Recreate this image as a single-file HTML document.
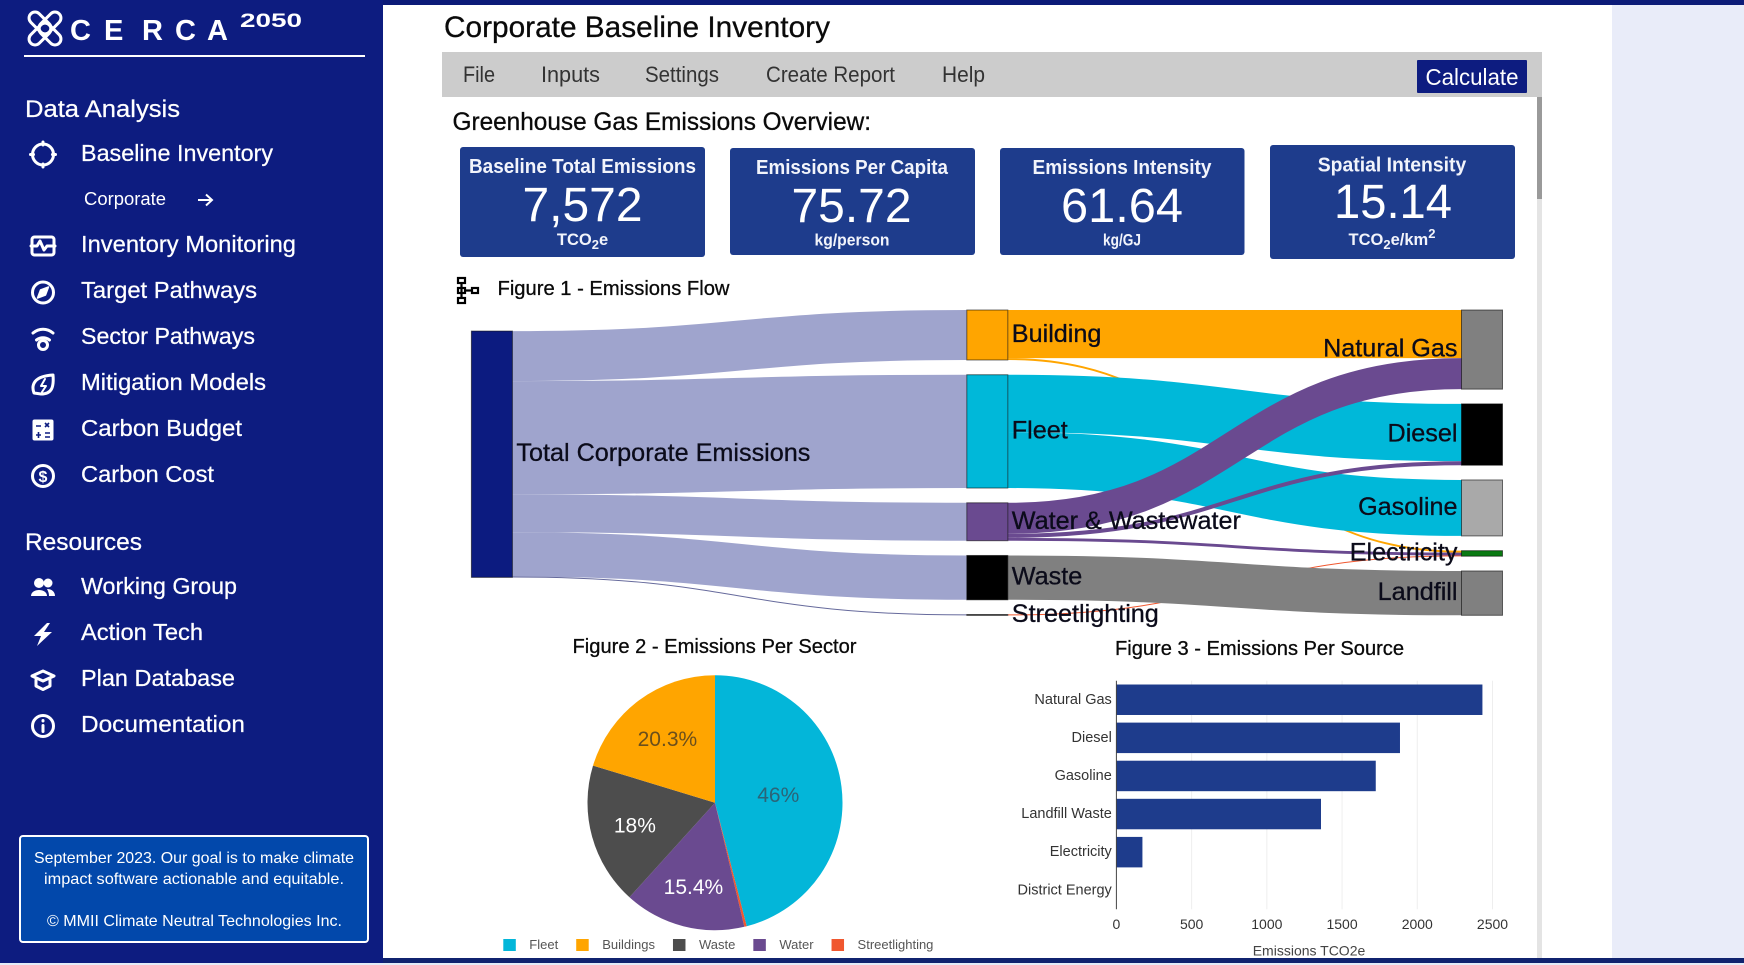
<!DOCTYPE html>
<html lang="en">
<head>
<meta charset="utf-8">
<title>Corporate Baseline Inventory</title>
<style>
html,body{margin:0;padding:0;width:1744px;height:965px;overflow:hidden;background:#fff}
svg{position:absolute;left:0;top:0;display:block}
text{font-family:"Liberation Sans",sans-serif}
.nav{fill:#fff;font-size:23px;stroke:#fff;stroke-width:.25}
.sec{fill:#fff;font-size:24px;stroke:#fff;stroke-width:.25}
.menu{fill:#333;font-size:22px}
.ct{fill:#f2f4fb;font-size:20px;font-weight:bold;text-anchor:middle}
.cv{fill:#fff;font-size:48px;text-anchor:middle}
.cu{fill:#f2f4fb;font-size:16.5px;font-weight:bold;text-anchor:middle}
.ic{fill:none;stroke:#fff;stroke-width:3;stroke-linecap:round;stroke-linejoin:round}
.foot{fill:#fff;font-size:16px}
.head{stroke:#0a0a0a;stroke-width:.3}
</style>
</head>
<body>
<svg id="root" width="1744" height="965" viewBox="0 0 1744 965" xmlns="http://www.w3.org/2000/svg">
  <rect x="0" y="0" width="1744" height="965" fill="#e3ecf8"/>
  <rect x="383" y="5" width="1229" height="953" fill="#ffffff"/>
  <rect x="1612" y="5" width="132" height="953" fill="#e9ecf9"/>
  <rect x="0" y="0" width="1744" height="5" fill="#0c1b78"/>
  <rect x="383" y="958" width="1361" height="5" fill="#10236f"/>

  <!-- SIDEBAR -->
  <g>
    <rect x="0" y="0" width="383" height="963" fill="#0d1c80"/>
    <g>
      <g fill="none" stroke="#fff" stroke-width="3">
        <rect x="27" y="17" width="26" height="12" rx="6" transform="rotate(45 40 23)"/>
        <rect x="37" y="28" width="26" height="12" rx="6" transform="rotate(45 50 34)"/>
        <rect x="37" y="17" width="26" height="12" rx="6" transform="rotate(-45 50 23)"/>
        <rect x="27" y="28" width="26" height="12" rx="6" transform="rotate(-45 40 34)"/>
      </g>
      <text x="70 104 142 175 207" y="40" fill="#fff" font-size="29" font-weight="bold">CERCA</text>
      <text x="240" y="27" fill="#fff" font-size="19" font-weight="bold" textLength="62" lengthAdjust="spacingAndGlyphs">2050</text>
    </g>
    <rect x="24" y="55" width="341" height="2" fill="#fff"/>

    <text class="sec" x="25" y="117" textLength="155" lengthAdjust="spacingAndGlyphs">Data Analysis</text>
    <text class="nav" x="81" y="161" textLength="192" lengthAdjust="spacingAndGlyphs">Baseline Inventory</text>
    <text x="84" y="205" fill="#fff" font-size="18" textLength="82" lengthAdjust="spacingAndGlyphs">Corporate</text>
    <path d="M198 200H212M206 194.500L212 200L206 205.500" fill="none" stroke="#fff" stroke-width="2"/>
    <text class="nav" x="81" y="252" textLength="215" lengthAdjust="spacingAndGlyphs">Inventory Monitoring</text>
    <text class="nav" x="81" y="298" textLength="176" lengthAdjust="spacingAndGlyphs">Target Pathways</text>
    <text class="nav" x="81" y="344" textLength="174" lengthAdjust="spacingAndGlyphs">Sector Pathways</text>
    <text class="nav" x="81" y="390" textLength="185" lengthAdjust="spacingAndGlyphs">Mitigation Models</text>
    <text class="nav" x="81" y="436" textLength="161" lengthAdjust="spacingAndGlyphs">Carbon Budget</text>
    <text class="nav" x="81" y="482" textLength="133" lengthAdjust="spacingAndGlyphs">Carbon Cost</text>
    <text class="sec" x="25" y="550" textLength="117" lengthAdjust="spacingAndGlyphs">Resources</text>
    <text class="nav" x="81" y="594" textLength="156" lengthAdjust="spacingAndGlyphs">Working Group</text>
    <text class="nav" x="81" y="640" textLength="122" lengthAdjust="spacingAndGlyphs">Action Tech</text>
    <text class="nav" x="81" y="686" textLength="154" lengthAdjust="spacingAndGlyphs">Plan Database</text>
    <text class="nav" x="81" y="732" textLength="164" lengthAdjust="spacingAndGlyphs">Documentation</text>

    <g class="ic"><circle cx="43" cy="154.500" r="10.500"/><path d="M43 142v3M43 164v3M30.500 154.500h3M52.500 154.500h3"/></g>
    <g class="ic" stroke-width="2.500"><rect x="32" y="237" width="22" height="18" rx="2.500"/><path d="M31 246h6l3-5 4 9 3-4h8" stroke="#fff"/></g>
    <g class="ic"><circle cx="43" cy="292.500" r="10.500"/><path d="M48.500 287L45.500 295 37.500 298 40.500 290Z" fill="#fff" stroke-width="1.500"/></g>
    <g class="ic"><path d="M33 333c6-5 14-5 20 0"/><path d="M36.500 340c4-3 9-3 13 0"/><circle cx="43" cy="345" r="4.500"/></g>
    <g class="ic" stroke-width="2.600"><path d="M34 393c-3-8 0-17 19-18 1 12-1 19-12 19z"/><path d="M45 379l-4 7h5l-4 6" stroke-width="2"/></g>
    <g><rect x="32.500" y="419.500" width="21" height="21" rx="2" fill="#fff"/><path d="M36 426h5M38.500 432v6M36 435h5M45 423l4 4M49 423l-4 4M45 433h5M45 437h5" stroke="#0d1c80" stroke-width="1.600" fill="none"/></g>
    <g class="ic"><circle cx="43" cy="476" r="10.500"/><text x="43" y="482" text-anchor="middle" fill="#fff" stroke="none" font-size="16" font-weight="bold">$</text></g>
    <g fill="#fff"><circle cx="39" cy="583" r="5"/><circle cx="48" cy="583" r="4.500"/><path d="M31 596c0-8 16-8 16 0zM47 589c5 0 8 3 8 7h-6c0-3-1-5-2-7z"/></g>
    <path d="M47 623L34 636h7l-4 10 15-14h-8l6-9z" fill="#fff"/>
    <g class="ic"><path d="M32 676l11-5 11 5-11 5z"/><path d="M36 680v6l7 3.500 7-3.500v-6"/></g>
    <g class="ic"><circle cx="43" cy="726" r="10.500"/><path d="M43 725.500v6M43 720.500v.5"/></g>

    <g>
      <rect x="20" y="836" width="348" height="106" rx="3" fill="#0248ab" stroke="#fff" stroke-width="2"/>
      <text class="foot" x="34" y="863" textLength="320" lengthAdjust="spacingAndGlyphs">September 2023. Our goal is to make climate</text>
      <text class="foot" x="44" y="884" textLength="300" lengthAdjust="spacingAndGlyphs">impact software actionable and equitable.</text>
      <text class="foot" x="47" y="926" textLength="295" lengthAdjust="spacingAndGlyphs">© MMII Climate Neutral Technologies Inc.</text>
    </g>
  </g>

  <!-- HEADER -->
  <text class="head" x="444" y="37" fill="#0a0a0a" font-size="30" textLength="386" lengthAdjust="spacingAndGlyphs">Corporate Baseline Inventory</text>
  <rect x="442" y="52" width="1100" height="45" fill="#cccccc"/>
  <text class="menu" x="463" y="82" textLength="32" lengthAdjust="spacingAndGlyphs">File</text>
  <text class="menu" x="541" y="82" textLength="59" lengthAdjust="spacingAndGlyphs">Inputs</text>
  <text class="menu" x="645" y="82" textLength="74" lengthAdjust="spacingAndGlyphs">Settings</text>
  <text class="menu" x="766" y="82" textLength="129" lengthAdjust="spacingAndGlyphs">Create Report</text>
  <text class="menu" x="942" y="82" textLength="43" lengthAdjust="spacingAndGlyphs">Help</text>
  <g>
    <rect x="1417" y="60" width="110" height="33" rx="1" fill="#0d1c80"/>
    <text x="1425.500" y="85" fill="#fff" font-size="23" textLength="93" lengthAdjust="spacingAndGlyphs">Calculate</text>
  </g>
  <rect x="1537" y="97" width="5" height="861" fill="#e4e4e4"/>
  <rect x="1537" y="97" width="5" height="102" fill="#9a9a9a"/>
  <text class="head" x="452.500" y="130" fill="#0a0a0a" font-size="25" textLength="418.500" lengthAdjust="spacingAndGlyphs">Greenhouse Gas Emissions Overview:</text>

  <!-- KPI CARDS -->
  <g>
    <rect x="460" y="147" width="245" height="110" rx="3" fill="#1e3c8c"/>
    <text class="ct" x="582.500" y="173" textLength="227" lengthAdjust="spacingAndGlyphs">Baseline Total Emissions</text>
    <text class="cv" x="582.500" y="221" textLength="120" lengthAdjust="spacingAndGlyphs">7,572</text>
    <text class="cu" x="582.500" y="245">TCO<tspan dy="4" font-size="13">2</tspan><tspan dy="-4">e</tspan></text>
  </g>
  <g>
    <rect x="730" y="148" width="245" height="107" rx="3" fill="#1e3c8c"/>
    <text class="ct" x="852" y="174" textLength="192" lengthAdjust="spacingAndGlyphs">Emissions Per Capita</text>
    <text class="cv" x="851.500" y="222" textLength="120" lengthAdjust="spacingAndGlyphs">75.72</text>
    <text class="cu" x="852" y="245.500" textLength="75" lengthAdjust="spacingAndGlyphs">kg/person</text>
  </g>
  <g>
    <rect x="1000" y="148" width="244.500" height="107" rx="3" fill="#1e3c8c"/>
    <text class="ct" x="1122" y="174" textLength="179" lengthAdjust="spacingAndGlyphs">Emissions Intensity</text>
    <text class="cv" x="1122" y="222" textLength="122" lengthAdjust="spacingAndGlyphs">61.64</text>
    <text class="cu" x="1122" y="245.500" textLength="38" lengthAdjust="spacingAndGlyphs">kg/GJ</text>
  </g>
  <g>
    <rect x="1270" y="145" width="245" height="114" rx="3" fill="#1e3c8c"/>
    <text class="ct" x="1392" y="171.500" textLength="148.500" lengthAdjust="spacingAndGlyphs">Spatial Intensity</text>
    <text class="cv" x="1393" y="218" textLength="118" lengthAdjust="spacingAndGlyphs">15.14</text>
    <text class="cu" x="1392" y="245">TCO<tspan dy="4" font-size="13">2</tspan><tspan dy="-4">e/km</tspan><tspan dy="-7" font-size="13">2</tspan></text>
  </g>

  <!-- FIGURE TITLES -->
  <g fill="none" stroke="#000" stroke-width="2.200">
    <rect x="458" y="278" width="7" height="5"/><rect x="458" y="288" width="7" height="5"/><rect x="458" y="298" width="7" height="5"/><rect x="472" y="288" width="6" height="5"/>
    <path d="M461.500 283v15M465 290.500h7"/>
  </g>
  <text class="head" x="497.500" y="295" fill="#0a0a0a" font-size="20.500" textLength="232" lengthAdjust="spacingAndGlyphs">Figure 1 - Emissions Flow</text>
  <text class="head" x="572.500" y="653" fill="#0a0a0a" font-size="20.500" textLength="284" lengthAdjust="spacingAndGlyphs">Figure 2 - Emissions Per Sector</text>
  <text class="head" x="1115" y="655" fill="#0a0a0a" font-size="20.500" textLength="289" lengthAdjust="spacingAndGlyphs">Figure 3 - Emissions Per Source</text>

  <g id="sankey"></g>
  <g id="pie"></g>
  <g id="bars"></g>
</svg>

<script>
/* ---------- Figure 1 data ---------- */
const sankeyColumnOne = ['Total Corporate Emissions'];
const sankeyColumnTwo = ['Building', 'Fleet', 'Water & Wastewater', 'Waste', 'Streetlighting'];
const sankeyColumnThree = ['Natural Gas', 'Diesel', 'Gasoline', 'Electricity', 'Landfill'];
const linkSources = ['Total Corporate Emissions', 'Total Corporate Emissions', 'Total Corporate Emissions', 'Total Corporate Emissions', 'Total Corporate Emissions', 'Building', 'Building', 'Streetlighting', 'Fleet', 'Fleet', 'Water & Wastewater', 'Water & Wastewater', 'Water & Wastewater', 'Waste'];
const linkTargets = ['Building', 'Fleet', 'Water & Wastewater', 'Waste', 'Streetlighting', 'Natural Gas', 'Electricity', 'Electricity', 'Diesel', 'Gasoline', 'Natural Gas', 'Diesel', 'Electricity', 'Landfill'];
const linkValues = [1537, 3483, 1166, 1363, 23, 1478, 59, 23, 1762, 1721, 955, 123, 88, 1363];

/* ---------- Figure 2 data ---------- */
const sectorNames = ['Fleet', 'Streetlighting', 'Water', 'Waste', 'Buildings'];
const sectorValues = [3483, 23, 1166, 1363, 1537];

/* ---------- Figure 3 data ---------- */
const sourceNames = ['Natural Gas', 'Diesel', 'Gasoline', 'Landfill Waste', 'Electricity', 'District Energy'];
const sourceValues = [2433, 1885, 1724, 1360, 173, 0];
const valueTicks = [0, 500, 1000, 1500, 2000, 2500];

/* ---------- helpers ---------- */
const NS = 'http://www.w3.org/2000/svg';
function make(parent, tag, attrs, content) {
  const node = document.createElementNS(NS, tag);
  for (const key in attrs) node.setAttribute(key, attrs[key]);
  if (content !== undefined) node.textContent = content;
  parent.appendChild(node);
  return node;
}
function slug(s) {
  return String(s).toLowerCase().replace(/[^a-z0-9]+/g, '-').replace(/^-|-$/g, '');
}

/* ---------- Sankey ---------- */
(function () {
  const host = document.getElementById('sankey');
  const nodeFill = {
    'Total Corporate Emissions': '#0c1b80', 'Building': '#ffa500', 'Fleet': '#00b8d9',
    'Water & Wastewater': '#6a4a90', 'Waste': '#000000', 'Streetlighting': '#000000',
    'Natural Gas': '#808080', 'Diesel': '#000000', 'Gasoline': '#a9a9a9',
    'Electricity': '#0a7a12', 'Landfill': '#808080'
  };
  const linkFill = {
    'Total Corporate Emissions': '#9fa4cd', 'Building': '#ffa500', 'Fleet': '#00b8d9',
    'Water & Wastewater': '#6a4a90', 'Waste': '#808080', 'Streetlighting': '#f0572f'
  };
  const thinLinkFill = { 'Total Corporate Emissions': '#666a9c' };
  const top = 310, bottom = 615.3, nodeWidth = 41;
  const columnX = [471.4, 966.8, 1461.5];
  const columns = [sankeyColumnOne, sankeyColumnTwo, sankeyColumnThree];

  const totalIn = {}, totalOut = {};
  linkValues.forEach(function (v, i) {
    totalOut[linkSources[i]] = (totalOut[linkSources[i]] || 0) + v;
    totalIn[linkTargets[i]] = (totalIn[linkTargets[i]] || 0) + v;
  });
  const nodeValue = function (n) { return Math.max(totalIn[n] || 0, totalOut[n] || 0); };
  const columnSum = function (c) { return c.reduce(function (a, n) { return a + nodeValue(n); }, 0); };
  const gapShare = 59;
  const largest = Math.max.apply(null, columns.map(columnSum));
  const unit = (bottom - top - gapShare) / largest;

  const layout = {};
  [1, 2].forEach(function (c) {
    const names = columns[c];
    const used = columnSum(names) * unit;
    const gap = (bottom - top - used) / (names.length - 1);
    let y = top;
    names.forEach(function (n) {
      layout[n] = { x: columnX[c], y: y, h: nodeValue(n) * unit };
      y += layout[n].h + gap;
    });
  });
  sankeyColumnOne.forEach(function (n) {
    let sum = 0, weight = 0;
    linkValues.forEach(function (v, i) {
      if (linkSources[i] === n) {
        const t = layout[linkTargets[i]];
        sum += (t.y + t.h / 2) * v;
        weight += v;
      }
    });
    const h = nodeValue(n) * unit;
    layout[n] = { x: columnX[0], y: sum / weight - h / 2 + 1.6, h: h };
  });

  const sourceOrder = {};
  sankeyColumnTwo.concat(sankeyColumnThree).forEach(function (n, i) { sourceOrder[n] = i; });
  const outOffset = {}, inOffset = {};
  const shapes = linkValues.map(function (v, i) { return { i: i, v: v, s: linkSources[i], t: linkTargets[i] }; });
  const bySource = shapes.slice().sort(function (a, b) { return sourceOrder[a.t] - sourceOrder[b.t]; });
  bySource.forEach(function (l) {
    outOffset[l.s] = outOffset[l.s] || 0;
    l.y0 = layout[l.s].y + outOffset[l.s];
    outOffset[l.s] += l.v * unit;
  });
  const inSequence = ['Building', 'Fleet', 'Water & Wastewater', 'Waste', 'Streetlighting', 'Total Corporate Emissions'];
  const byTarget = shapes.slice().sort(function (a, b) { return inSequence.indexOf(a.s) - inSequence.indexOf(b.s); });
  byTarget.forEach(function (l) {
    inOffset[l.t] = inOffset[l.t] || 0;
    l.y1 = layout[l.t].y + inOffset[l.t];
    inOffset[l.t] += l.v * unit;
  });

  /* Ribbons are stroked along their centre line so thickness stays constant along the curve. */
  shapes.forEach(function (l) {
    const x0 = layout[l.s].x + nodeWidth, x1 = layout[l.t].x, xm = (x0 + x1) / 2, h = l.v * unit;
    const yA = l.y0 + h / 2, yB = l.y1 + h / 2;
    const d = 'M' + x0 + ' ' + yA + 'C' + xm + ' ' + yA + ' ' + xm + ' ' + yB + ' ' + x1 + ' ' + yB;
    const thin = h < 1.5;
    const color = thin && thinLinkFill[l.s] ? thinLinkFill[l.s] : linkFill[l.s];
    const el = make(host, 'path', { d: d, fill: 'none', stroke: color, 'stroke-width': Math.max(h, 1) });
    
    
  });

  Object.keys(layout).forEach(function (n) {
    const p = layout[n];
    const el = make(host, 'rect', {
      x: p.x, y: p.y, width: nodeWidth, height: Math.max(p.h, 0.8),
      fill: nodeFill[n], stroke: 'rgba(0,0,0,0.55)', 'stroke-width': 1
    });
    
    
  });

  Object.keys(layout).forEach(function (n) {
    const p = layout[n];
    const right = p.x === columnX[2];
    const el = make(host, 'text', {
      x: right ? p.x - 4 : p.x + nodeWidth + 4,
      y: p.y + p.h / 2 + 7,
      'text-anchor': right ? 'end' : 'start',
      'font-size': 25.2,
      fill: '#0b0b1a',
      stroke: '#0b0b1a',
      'stroke-width': 0.3
    }, n);
    
    
  });
})();

/* ---------- Pie ---------- */
(function () {
  const host = document.getElementById('pie');
  const sliceFill = { Fleet: '#03b6d9', Streetlighting: '#f0572f', Water: '#6a4a90', Waste: '#4d4d4d', Buildings: '#ffa500' };
  const labelFill = { Fleet: '#2b6478', Streetlighting: '#ffffff', Water: '#ffffff', Waste: '#ffffff', Buildings: '#6b4f1c' };
  const cx = 715, cy = 802.7, R = 127.5;
  const total = sectorValues.reduce(function (a, b) { return a + b; }, 0);
  const point = function (angle, r) { return [cx + r * Math.sin(angle), cy - r * Math.cos(angle)]; };
  let cumulative = 0;
  sectorValues.forEach(function (v, i) {
    const frac = v / total, a0 = cumulative * 2 * Math.PI, a1 = (cumulative + frac) * 2 * Math.PI;
    const p0 = point(a0, R), p1 = point(a1, R);
    const d = 'M' + cx + ' ' + cy + 'L' + p0[0] + ' ' + p0[1] + 'A' + R + ' ' + R + ' 0 ' + (frac > 0.5 ? 1 : 0) + ' 1 ' + p1[0] + ' ' + p1[1] + 'Z';
    const el = make(host, 'path', { d: d, fill: sliceFill[sectorNames[i]] });
    
    
    cumulative += frac;
  });
  cumulative = 0;
  sectorValues.forEach(function (v, i) {
    const frac = v / total;
    if (frac >= 0.01) {
      const mid = (cumulative + frac / 2) * 2 * Math.PI;
      const factor = frac > 0.4 ? 0.5 : 0.627 + (0.203 - frac) * 1.08;
      const p = point(mid, R * factor);
      const t = make(host, 'text', { x: p[0], y: p[1] + 7.5, 'text-anchor': 'middle', 'font-size': 21, fill: labelFill[sectorNames[i]] }, parseFloat((frac * 100).toFixed(1)) + '%');
      
      
    }
    cumulative += frac;
  });
  const legendOrder = sectorNames.map(function (n, i) { return i; }).sort(function (a, b) { return sectorValues[b] - sectorValues[a]; });
  let lx = 503.3;
  legendOrder.forEach(function (i) {
    const name = sectorNames[i];
    const sw = make(host, 'rect', { x: lx, y: 939, width: 12.5, height: 12, fill: sliceFill[name] });
    
    
    const t = make(host, 'text', { x: lx + 26, y: 949, 'font-size': 13, fill: '#555555' }, name);
    
    
    lx += 26 + t.getComputedTextLength() + 18;
  });
})();

/* ---------- Bars ---------- */
(function () {
  const host = document.getElementById('bars');
  const x0 = 1116.4, xMaxPx = 1492.5, axisTop = 680.7, axisBottom = 909.3;
  const xScale = function (v) { return x0 + v * (xMaxPx - x0) / valueTicks[valueTicks.length - 1]; };
  const band = (axisBottom - axisTop) / sourceNames.length;
  const yBand = function (i) { return axisTop + band * i; };

  valueTicks.forEach(function (tick) {
    if (tick > 0) {
      const g = make(host, 'line', { x1: xScale(tick), x2: xScale(tick), y1: axisTop, y2: axisBottom, stroke: '#eeeeee', 'stroke-width': 1 });
      
      
    }
    const t = make(host, 'text', { x: xScale(tick), y: 929, 'text-anchor': 'middle', 'font-size': 14, fill: '#333333' }, tick);
    
    
  });

  sourceValues.forEach(function (v, i) {
    const name = sourceNames[i];
    const b = make(host, 'rect', { x: x0, y: yBand(i) + band * 0.1, width: xScale(v) - x0, height: band * 0.8, fill: '#1e3c8c' });
    
    
    const t = make(host, 'text', { x: 1111.8, y: yBand(i) + band / 2 + 4, 'text-anchor': 'end', 'font-size': 14.5, fill: '#333333' }, name);
    
    
  });

  const axis = make(host, 'line', { x1: x0, x2: x0, y1: axisTop, y2: axisBottom, stroke: '#444444', 'stroke-width': 1 });
  
  

  const title = make(host, 'text', { x: 1309, y: 955.5, 'text-anchor': 'middle', 'font-size': 14, fill: '#444444' }, 'Emissions TCO2e');
  
  
})();
</script>
</body>
</html>
